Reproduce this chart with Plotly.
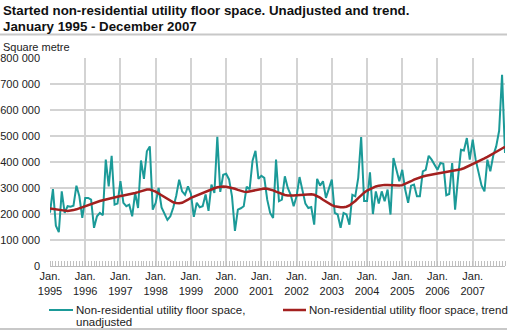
import plotly.graph_objects as go

# ---- data (values in 1000 square metres, monthly Jan 1995 - Dec 2007) ----
unadjusted_k = [
    205, 296, 155, 130, 287, 204, 230, 228, 232, 309, 268, 185,   # 1995
    262, 262, 255, 147, 191, 204, 195, 409, 306, 424, 236, 240,   # 1996
    326, 243, 230, 236, 191, 281, 223, 406, 335, 441, 460, 217,   # 1997
    243, 300, 225, 200, 177, 191, 225, 270, 332, 287, 274, 306,   # 1998
    278, 189, 243, 226, 230, 275, 212, 313, 281, 497, 285, 351,   # 1999
    355, 333, 268, 135, 217, 222, 230, 305, 295, 405, 443, 335,   # 2000
    347, 339, 255, 204, 185, 409, 249, 255, 345, 300, 274, 230,   # 2001
    268, 342, 296, 240, 223, 227, 159, 335, 309, 326, 262, 300,   # 2002
    332, 204, 198, 147, 204, 198, 159, 274, 268, 339, 496, 250,   # 2003
    250, 360, 200, 287, 240, 287, 249, 294, 198, 415, 364, 326,   # 2004
    370, 294, 243, 309, 313, 268, 268, 364, 370, 424, 409, 390,   # 2005
    370, 396, 393, 272, 277, 396, 217, 339, 447, 444, 492, 409,   # 2006
    486, 409, 360, 310, 287, 409, 364, 425, 460, 520, 735, 435,   # 2007
]
trend_k = [
    221, 219, 217, 215, 214, 213, 212, 213, 215, 218, 222, 227,   # 1995
    233, 236, 240, 244, 247, 250, 253, 256, 259, 262, 265, 267,   # 1996
    269, 271, 273, 275, 278, 281, 284, 288, 291, 294, 294, 291,   # 1997
    286, 279, 272, 264, 257, 250, 245, 242, 241, 243, 248, 255,   # 1998
    262, 267, 271, 275, 280, 285, 290, 295, 299, 303, 305, 306,   # 1999
    305, 303, 300, 297, 293, 289, 286, 285, 287, 290, 293, 295,   # 2000
    297, 298, 297, 295, 291, 286, 281, 277, 273, 271, 270, 271,   # 2001
    272, 273, 274, 275, 276, 276, 274, 270, 263, 255, 247, 240,   # 2002
    234, 230, 227, 226, 226, 228, 233, 240, 250, 261, 272, 282,   # 2003
    290, 296, 302, 306, 309, 311, 312, 312, 311, 310, 309, 310,   # 2004
    311, 315, 320, 326, 332, 337, 341, 344, 347, 350, 352, 354,   # 2005
    356, 358, 360, 362, 364, 365, 367, 369, 372, 376, 381, 386,   # 2006
    391, 396, 402, 408, 414, 420, 427, 433, 440, 446, 452, 458,   # 2007
]
years = list(range(1995, 2008))
tick_years = list(range(1995, 2008))
y_ticks = [0, 100000, 200000, 300000, 400000, 500000, 600000, 700000, 800000]
y_tick_labels = ["0", "100 000", "200 000", "300 000", "400 000",
                 "500 000", "600 000", "700 000", "800 000"]
series_names = ["Non-residential utility floor space, unadjusted",
                "Non-residential utility floor space, trend"]
legend_lines = [["Non-residential utility floor space,", "unadjusted"],
                ["Non-residential utility floor space, trend"]]
title_lines = ["Started non-residential utility floor space. Unadjusted and trend.",
               "January 1995 - December 2007"]
unit_label = "Square metre"

TEAL = "#1b9a98"
RED = "#a3201f"
GRID = "#d3d3d3"
FONT = "Liberation Sans, Arial, sans-serif"
COLORS = [TEAL, RED]
WIDTHS = [2, 2.5]

FIG_W, FIG_H = 517, 332
# plot area geometry (pixels)
L, R, T, B = 50, 505, 58, 266
W, H = R - L, B - T
def px_x(p):
    return (p - L) / W
def px_y(p):
    return (B - p) / H

x = list(range(len(unadjusted_k)))
unadjusted = [v * 1000 for v in unadjusted_k]
trend = [v * 1000 for v in trend_k]

fig = go.Figure()
fig.add_trace(go.Scatter(x=x, y=unadjusted, mode="lines", name=series_names[0],
                         line=dict(color=COLORS[0], width=WIDTHS[0])))
fig.add_trace(go.Scatter(x=x, y=trend, mode="lines", name=series_names[1],
                         line=dict(color=COLORS[1], width=WIDTHS[1])))

tickvals = [(yr - years[0]) * 12 for yr in tick_years]
ticktext = [f"Jan.<br>{yr}" for yr in tick_years]

fig.update_layout(
    width=FIG_W, height=FIG_H,
    margin=dict(l=L, r=FIG_W - R, t=T, b=FIG_H - B, autoexpand=False),
    paper_bgcolor="white", plot_bgcolor="white",
    font=dict(family=FONT, size=11, color="#222"),
    showlegend=False,
    xaxis=dict(range=[0, len(x) - 1], tickmode="array", tickvals=tickvals,
               ticktext=ticktext, showgrid=True, gridcolor=GRID, gridwidth=1.5,
               zeroline=False, showline=True, linecolor="#bbbbbb", linewidth=1,
               ticks="", automargin=False, tickfont=dict(size=11, color="#222"),
               minor=dict(tickmode="array", tickvals=x, ticks="inside",
                          ticklen=5, tickcolor="#c0c0c0", tickwidth=1,
                          showgrid=False)),
    yaxis=dict(range=[0, 800000], tickmode="array", tickvals=y_ticks,
               ticktext=y_tick_labels, showgrid=True, gridcolor=GRID,
               gridwidth=1.5, zeroline=False, showline=False, ticks="",
               automargin=False, ticklabelstandoff=9,
               tickfont=dict(size=11, color="#222")),
)

# Title (two lines), unit label
fig.add_annotation(text=f"<b>{title_lines[0]}</b>", xref="paper", yref="paper",
                   x=px_x(1), y=px_y(1), xanchor="left", yanchor="top",
                   showarrow=False, align="left", font=dict(size=13.3, color="#111"))
fig.add_annotation(text=f"<b>{title_lines[1]}</b>", xref="paper", yref="paper",
                   x=px_x(1), y=px_y(17), xanchor="left", yanchor="top",
                   showarrow=False, align="left", font=dict(size=13.3, color="#111"))
fig.add_annotation(text=unit_label, xref="paper", yref="paper",
                   x=px_x(1), y=px_y(39), xanchor="left", yanchor="top",
                   showarrow=False, font=dict(size=11, color="#222"))

# legend (sample line + text lines per series)
legend_sample_x = [(49, 73), (283, 306)]
legend_text_x = [76, 309]
legend_row_y = 309.5
legend_line_gap = 12
for k in range(2):
    x0, x1 = legend_sample_x[k]
    fig.add_shape(type="line", xref="paper", yref="paper",
                  x0=px_x(x0), x1=px_x(x1), y0=px_y(legend_row_y + 0.5),
                  y1=px_y(legend_row_y + 0.5),
                  line=dict(color=COLORS[k], width=WIDTHS[k]))
    for j, line_text in enumerate(legend_lines[k]):
        fig.add_annotation(text=line_text, xref="paper", yref="paper",
                           x=px_x(legend_text_x[k]),
                           y=px_y(legend_row_y + j * legend_line_gap),
                           xanchor="left", yanchor="middle", showarrow=False,
                           borderpad=0, borderwidth=0,
                           font=dict(size=11.5, color="#222"))

# separator lines
fig.add_shape(type="line", xref="paper", yref="paper", x0=px_x(0), x1=px_x(507),
              y0=px_y(34.5), y1=px_y(34.5), line=dict(color="#c8c8c8", width=2))
fig.add_shape(type="line", xref="paper", yref="paper", x0=px_x(0), x1=px_x(507),
              y0=px_y(329), y1=px_y(329), line=dict(color="#c8c8c8", width=2))

fig.write_html("out.html")
